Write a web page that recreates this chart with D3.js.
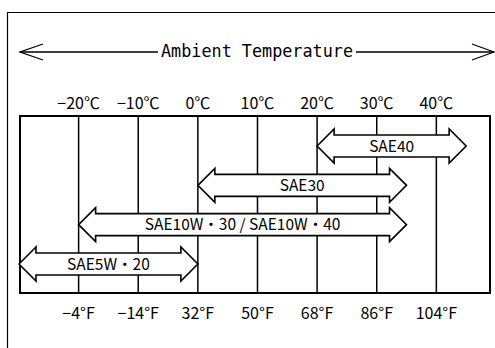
<!DOCTYPE html>
<html>
<head>
<meta charset="utf-8">
<script src="https://cdn.jsdelivr.net/npm/d3@7"></script>
<style>
  html, body { margin: 0; padding: 0; background: #fff; }
  svg { display: block; }
</style>
</head>
<body>
<svg id="chart" width="495" height="348"></svg>
<script>
// Recommended oil grades by ambient temperature range (°C)
const grades = ["SAE40", "SAE30", "SAE10W・30 / SAE10W・40", "SAE5W・20"];
const rangeFrom = [20, 0, -20, -30];
const rangeTo = [45, 35, 35, 0];

// Temperature gridlines (°C) and their labels
const tickC = [-20, -10, 0, 10, 20, 30, 40];
const labelsC = ["−20℃", "−10℃", "0℃", "10℃", "20℃", "30℃", "40℃"];
const labelsF = ["−4°F", "−14°F", "32°F", "50°F", "68°F", "86°F", "104°F"];

const title = "Ambient Temperature";

const svg = d3.select("#chart");
const W = 495, H = 348;
const box = { left: 20, right: 490, top: 116, bottom: 293 };

const x = d3.scaleLinear().domain([-30, 49]).range([19, 490]);
const y = d3.scalePoint().domain(grades).range([146, 264]);

const labelFont = "'Noto Sans CJK JP', 'Noto Sans', sans-serif";

// Outer frame
svg.append("path")
  .attr("d", `M7.5,${H} L7.5,12.5 L${W},12.5`)
  .attr("fill", "none").attr("stroke", "#000").attr("stroke-width", 1.2);

// Title with double-headed arrow
const titleY = 52;
const titleG = svg.append("g");
titleG.append("text")
  .attr("x", 257).attr("y", titleY + 5)
  .attr("text-anchor", "middle")
  .attr("font-family", "'DejaVu Sans Mono', monospace")
  .attr("font-size", 18)
  .attr("textLength", 192)
  .attr("lengthAdjust", "spacingAndGlyphs")
  .attr("fill", "#000")
  .text(title);
titleG.append("path")
  .attr("d", `M20,${titleY} L158,${titleY} M356,${titleY} L494,${titleY}`)
  .attr("stroke", "#000").attr("stroke-width", 1.3).attr("fill", "none");
titleG.append("path")
  .attr("d", `M43,${titleY - 8} L20,${titleY} L43,${titleY + 8}`)
  .attr("stroke", "#000").attr("stroke-width", 1.3).attr("fill", "none");
titleG.append("path")
  .attr("d", `M472,${titleY - 8} L494,${titleY} L472,${titleY + 8}`)
  .attr("stroke", "#000").attr("stroke-width", 1.3).attr("fill", "none");

// Gridlines
svg.append("g").selectAll("line")
  .data(tickC).join("line")
  .attr("x1", d => x(d)).attr("x2", d => x(d))
  .attr("y1", box.top).attr("y2", box.bottom)
  .attr("stroke", "#000").attr("stroke-width", 1.5);

// Plot box
svg.append("rect")
  .attr("x", box.left).attr("y", box.top)
  .attr("width", box.right - box.left).attr("height", box.bottom - box.top)
  .attr("fill", "none").attr("stroke", "#000").attr("stroke-width", 2);

// Celsius labels above the box
svg.append("g").selectAll("text")
  .data(tickC).join("text")
  .attr("x", d => x(d)).attr("y", 108.5)
  .attr("text-anchor", "middle")
  .attr("font-family", labelFont)
  .attr("font-size", 16)
  .attr("fill", "#000")
  .text((d, i) => labelsC[i]);

// Fahrenheit labels below the box
svg.append("g").selectAll("text")
  .data(tickC).join("text")
  .attr("x", d => x(d)).attr("y", 318.5)
  .attr("text-anchor", "middle")
  .attr("font-family", labelFont)
  .attr("font-size", 16)
  .attr("fill", "#000")
  .text((d, i) => labelsF[i]);

// Double-headed range arrows
const bodyHalf = 11, headHalf = 17, headLen = 17;
function arrowPath(x1, x2, cy) {
  return [
    [x1, cy], [x1 + headLen, cy - headHalf], [x1 + headLen, cy - bodyHalf],
    [x2 - headLen, cy - bodyHalf], [x2 - headLen, cy - headHalf], [x2, cy],
    [x2 - headLen, cy + headHalf], [x2 - headLen, cy + bodyHalf],
    [x1 + headLen, cy + bodyHalf], [x1 + headLen, cy + headHalf]
  ].map((p, i) => (i ? "L" : "M") + p[0] + "," + p[1]).join("") + "Z";
}

const arrows = svg.append("g").selectAll("g")
  .data(grades).join("g");
arrows.append("path")
  .attr("d", (d, i) => arrowPath(x(rangeFrom[i]), x(rangeTo[i]), y(d)))
  .attr("fill", "#fff").attr("stroke", "#000").attr("stroke-width", 1.6)
  .attr("stroke-linejoin", "miter");
arrows.append("text")
  .attr("x", (d, i) => (x(rangeFrom[i]) + x(rangeTo[i])) / 2)
  .attr("y", d => y(d) + 5.5)
  .attr("text-anchor", "middle")
  .attr("font-family", labelFont)
  .attr("font-size", 15.5)
  .attr("fill", "#000")
  .text(d => d);
</script>
</body>
</html>
